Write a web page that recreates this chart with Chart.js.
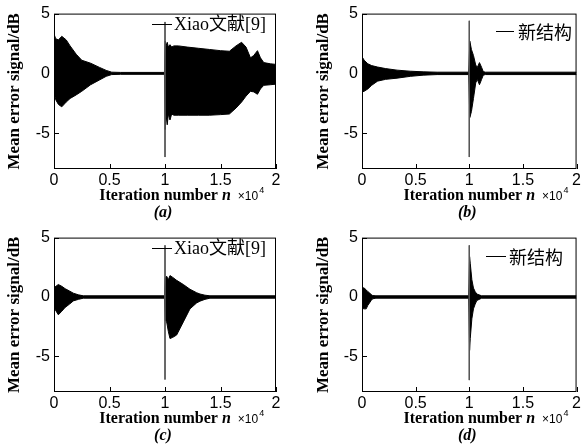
<!DOCTYPE html>
<html>
<head>
<meta charset="utf-8">
<script src="https://cdn.jsdelivr.net/npm/chart.js@4.4.0/dist/chart.umd.min.js"></script>
<style>
  html, body { margin: 0; padding: 0; background: #fff; }
  #wrap { position: relative; width: 583px; height: 448px; overflow: hidden; background: #fff; }
  canvas { position: absolute; }
</style>
</head>
<body>
<div id="wrap">
  <canvas id="ca" width="291" height="224" style="left:0;top:0"></canvas>
  <canvas id="cb" width="292" height="224" style="left:291px;top:0"></canvas>
  <canvas id="cc" width="291" height="224" style="left:0;top:224px"></canvas>
  <canvas id="cd" width="292" height="224" style="left:291px;top:224px"></canvas>
</div>
<script>
// iteration where the plant changes
const stepN = 10000;
const xTickVals = [0, 5000, 10000, 15000, 20000];
const xTickText = ['0', '0.5', '1', '1.5', '2'];
const yTickVals = [-5, 0, 5];

// (a) Xiao - envelope of the error signal (dB)
const aN   = [0, 150, 400, 700, 1100, 1450, 2000, 2500, 3300, 4100, 4700, 5200, 6000, 9950,
              10020, 10100, 10200, 10300, 10450, 10600, 10800, 11200, 12000, 13000, 14000, 15000,
              15800, 16400, 16900, 17300, 17700, 18000, 18330, 18600, 18900, 19500, 20000];
const aTop = [3.3, 2.9, 2.8, 3.1, 2.8, 2.3, 1.6, 1.1, 0.85, 0.5, 0.25, 0.1, 0.08, 0.08,
              2.7, 2.3, 2.6, 2.2, 2.4, 2.2, 2.3, 2.3, 2.2, 2.1, 2.0, 1.9,
              1.85, 2.3, 2.6, 2.2, 1.3, 1.5, 1.9, 1.3, 0.9, 0.8, 0.75];
const aBot = [-1.5, -2.2, -2.6, -2.8, -2.4, -2.1, -1.8, -1.5, -0.95, -0.55, -0.25, -0.1, -0.08, -0.08,
              -4.7, -3.5, -4.3, -3.4, -3.9, -3.4, -3.5, -3.5, -3.5, -3.5, -3.5, -3.45,
              -3.4, -2.9, -2.4, -1.9, -1.5, -1.55, -1.75, -1.3, -1.0, -0.95, -0.9];
const aSpike = [4.3, -7.0];

// (b) new structure
const bN   = [0, 200, 545, 900, 1450, 2200, 3270, 4500, 5700, 7000, 9950,
              10050, 10200, 10390, 10600, 10750, 10950, 11150, 11300, 11500, 20000];
const bTop = [1.4, 1.1, 0.8, 0.65, 0.53, 0.4, 0.27, 0.18, 0.13, 0.1, 0.1,
              2.7, 2.0, 1.5, 0.7, 0.5, 0.9, 0.5, 0.15, 0.1, 0.1];
const bBot = [-1.55, -1.5, -1.3, -1.0, -0.65, -0.5, -0.4, -0.25, -0.15, -0.1, -0.1,
              -3.7, -3.2, -2.1, -0.8, -0.5, -0.95, -0.5, -0.15, -0.1, -0.1];
const bSpike = [4.4, -7.0];

// (c) Xiao
const cN   = [0, 390, 700, 1000, 1400, 1740, 2200, 2640, 9950,
              10030, 10150, 10300, 10450, 10700, 11050, 11650, 12250, 12850, 13150, 13600, 14050, 20000];
const cTop = [0.78, 1.05, 0.9, 0.7, 0.5, 0.32, 0.18, 0.1, 0.1,
              1.6, 1.75, 1.45, 1.8, 1.65, 1.4, 1.05, 0.65, 0.36, 0.25, 0.15, 0.1, 0.1];
const cBot = [-0.9, -1.5, -1.2, -0.88, -0.6, -0.33, -0.2, -0.1, -0.1,
              -2.0, -2.1, -2.9, -3.5, -3.4, -3.2, -2.1, -1.0, -0.5, -0.35, -0.2, -0.1, -0.1];
const cSpike = [4.35, -6.95];

// (d) new structure
const dN   = [0, 200, 390, 545, 700, 850, 1000, 1300, 9950,
              10030, 10090, 10240, 10390, 10550, 10700, 11150, 20000];
const dTop = [0.8, 0.75, 0.6, 0.45, 0.35, 0.2, 0.12, 0.1, 0.1,
              3.4, 2.84, 1.46, 0.75, 0.45, 0.25, 0.1, 0.1];
const dBot = [-0.95, -1.0, -1.0, -0.7, -0.5, -0.3, -0.15, -0.1, -0.1,
              -4.5, -3.5, -1.84, -1.0, -0.6, -0.3, -0.1, -0.1];
const dSpike = [4.35, -7.0];

const SERIF = '"Liberation Serif", "Times New Roman", serif';
const SANS = '"Liberation Sans", Arial, sans-serif';
const CJK = '"Noto Sans CJK SC", sans-serif';

function pts(n, v) {
    return n.map((x, i) => ({ x: x, y: v[i] }));
}

// box, inward ticks, legend, x label and caption
const framePlugin = {
    id: 'frame',
    afterDatasetsDraw(chart, args, opts) {
        const { ctx, chartArea: a, scales } = chart;
        ctx.save();
        ctx.strokeStyle = '#000';
        ctx.lineWidth = 1;
        ctx.strokeRect(a.left + 0.5, a.top + 0.5, a.right - a.left - 1, a.bottom - a.top - 1);
        ctx.beginPath();
        xTickVals.forEach(v => {
            const px = Math.round(scales.x.getPixelForValue(v)) + 0.5;
            ctx.moveTo(px, a.bottom);
            ctx.lineTo(px, a.bottom - 5);
        });
        yTickVals.forEach(v => {
            const py = Math.round(scales.y.getPixelForValue(v)) + 0.5;
            ctx.moveTo(a.left, py);
            ctx.lineTo(a.left + 5, py);
        });
        ctx.stroke();

        // legend
        const lg = opts.legend;
        ctx.beginPath();
        ctx.moveTo(lg.x1, lg.y + 0.5);
        ctx.lineTo(lg.x2, lg.y + 0.5);
        ctx.stroke();
        ctx.fillStyle = '#000';
        ctx.font = lg.font;
        ctx.textBaseline = 'middle';
        ctx.textAlign = 'left';
        ctx.fillText(lg.text, lg.tx, lg.y + 1);
        ctx.restore();
    },
    afterDraw(chart, args, opts) {
        const { ctx, chartArea: a } = chart;
        const cx = (a.left + a.right) / 2;
        ctx.save();
        ctx.fillStyle = '#000';
        ctx.textBaseline = 'alphabetic';
        ctx.textAlign = 'left';

        const t1 = 'Iteration number ';
        ctx.font = 'bold 16px ' + SERIF;
        const w1 = ctx.measureText(t1).width;
        ctx.font = 'italic bold 16px ' + SERIF;
        const w2 = ctx.measureText('n').width;
        const x0 = cx - (w1 + w2) / 2;
        const by = a.bottom + 31;
        ctx.font = 'bold 16px ' + SERIF;
        ctx.fillText(t1, x0, by);
        ctx.font = 'italic bold 16px ' + SERIF;
        ctx.fillText('n', x0 + w1, by);

        // x10^4 exponent
        const ex = x0 + w1 + w2 + 7;
        ctx.font = '12px ' + SANS;
        ctx.fillText('\u00d710', ex, by);
        const we = ctx.measureText('\u00d710').width;
        ctx.font = '9px ' + SANS;
        ctx.fillText('4', ex + we + 1, by - 7);

        // caption
        ctx.font = 'italic bold 16px ' + SERIF;
        ctx.textAlign = 'center';
        ctx.textBaseline = 'middle';
        ctx.fillText(opts.caption, cx - 2, a.bottom + 44);
        ctx.restore();
    }
};

function makeChart(id, n, top, bot, spike, legend, caption, pad, yw, xh) {
    return new Chart(document.getElementById(id), {
        type: 'line',
        data: {
            datasets: [
                { data: pts([stepN, stepN], spike), borderColor: '#555', borderWidth: 1, pointRadius: 0, fill: false },
                { data: pts(n, top), borderColor: '#000', borderWidth: 1, pointRadius: 0, fill: false },
                { data: pts(n, bot), borderColor: '#000', borderWidth: 1, pointRadius: 0, backgroundColor: '#000', fill: '-1' }
            ]
        },
        options: {
            responsive: false,
            animation: false,
            layout: { padding: pad },
            plugins: {
                legend: { display: false },
                tooltip: { enabled: false },
                frame: { legend: legend, caption: caption }
            },
            scales: {
                x: {
                    type: 'linear',
                    min: 0,
                    max: 20000,
                    afterBuildTicks: s => { s.ticks = xTickVals.map(v => ({ value: v })); },
                    afterFit: s => { s.height = xh; },
                    grid: { display: false, drawTicks: false },
                    border: { display: false },
                    ticks: {
                        autoSkip: false,
                        maxRotation: 0,
                        padding: 2,
                        color: '#000',
                        font: { family: SANS, size: 16 },
                        callback: v => xTickText[xTickVals.indexOf(v)]
                    }
                },
                y: {
                    type: 'linear',
                    min: -8,
                    max: 5,
                    afterBuildTicks: s => { s.ticks = yTickVals.map(v => ({ value: v })); },
                    afterFit: s => { s.width = yw; },
                    grid: { display: false, drawTicks: false },
                    border: { display: false },
                    ticks: {
                        padding: 4,
                        color: '#000',
                        font: { family: SANS, size: 16 },
                        callback: v => String(v)
                    },
                    title: {
                        display: true,
                        text: 'Mean error signal/dB',
                        color: '#000',
                        font: { family: SERIF, size: 17, weight: 'bold' },
                        padding: { top: 4, bottom: 0 }
                    }
                }
            }
        },
        plugins: [framePlugin]
    });
}

const latinFont = '18px ' + SERIF + ', ' + CJK;
const cjkFont = '18px ' + CJK;

makeChart('ca', aN, aTop, aBot, aSpike,
    { text: 'Xiao文献[9]', font: latinFont, x1: 152, x2: 172, tx: 174, y: 24 },
    '(a)', { left: 0, right: 15, top: 13, bottom: 0 }, 54, 55);
makeChart('cb', bN, bTop, bBot, bSpike,
    { text: '新结构', font: cjkFont, x1: 205, x2: 223, tx: 227, y: 31 },
    '(b)', { left: 18, right: 1, top: 13, bottom: 0 }, 53, 55);
makeChart('cc', cN, cTop, cBot, cSpike,
    { text: 'Xiao文献[9]', font: latinFont, x1: 152, x2: 172, tx: 174, y: 24 },
    '(c)', { left: 0, right: 15, top: 12, bottom: 0 }, 54, 56);
makeChart('cd', dN, dTop, dBot, dSpike,
    { text: '新结构', font: cjkFont, x1: 195, x2: 215, tx: 218, y: 32 },
    '(d)', { left: 18, right: 1, top: 12, bottom: 0 }, 53, 56);
</script>
</body>
</html>
